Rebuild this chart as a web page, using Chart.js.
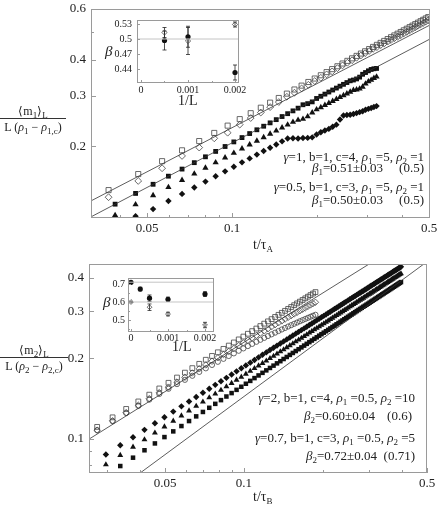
<!DOCTYPE html>
<html>
<head>
<meta charset="utf-8">
<script src="https://cdn.jsdelivr.net/npm/chart.js@4.4.1/dist/chart.umd.min.js"></script>
<style>
  html, body { margin:0; padding:0; background:#fff; }
  #fig { position:relative; width:437px; height:505px; overflow:hidden; font-family:'Liberation Serif','Times New Roman',serif; color:#222; }
  canvas { position:absolute; }
  .txt { position:absolute; white-space:nowrap; font-size:13px; line-height:15px; }
  .txt sub, .frac sub { font-size:9px; line-height:0; vertical-align:-3px; }
  .frac { position:absolute; text-align:center; font-size:12px; line-height:14px; }
  .frac .den { border-top:1px solid #333; padding-top:1px; }
  .r { display:inline-block; text-align:right; }
</style>
</head>
<body>
<div id="fig">
  <canvas id="topMain" width="437" height="252" style="left:0;top:0"></canvas>
  <canvas id="topInset" width="150" height="100" style="left:100px;top:12px"></canvas>
  <canvas id="botMain" width="437" height="253" style="left:0;top:252px"></canvas>
  <canvas id="botInset" width="130" height="90" style="left:95px;top:270px"></canvas>

  <div class="frac" style="left:0;top:104px;width:66px">
    <div>⟨m<sub>1</sub>⟩<sub>L</sub></div>
    <div class="den">L (<i>ρ</i><sub>1</sub> − <i>ρ</i><sub>1,c</sub>)</div>
  </div>
  <div class="txt" style="left:253px;top:237px;font-size:14px">t/τ<sub>A</sub></div>
  <div class="txt" style="right:13px;top:149px"><i>γ</i>=1, b=1, c=4, <i>ρ</i><sub>1</sub> =5, <i>ρ</i><sub>2</sub> =1</div>
  <div class="txt" style="right:13px;top:160px"><i>β</i><sub>1</sub>=0.51±0.03<span class="r" style="width:41px">(0.5)</span></div>
  <div class="txt" style="right:13px;top:179px"><i>γ</i>=0.5, b=1, c=3, <i>ρ</i><sub>1</sub> =5, <i>ρ</i><sub>2</sub> =1</div>
  <div class="txt" style="right:13px;top:192px"><i>β</i><sub>1</sub>=0.50±0.03<span class="r" style="width:41px">(0.5)</span></div>
  <div class="txt" style="left:105px;top:44px;font-size:15px"><i>β</i></div>
  <div class="txt" style="left:178px;top:93px;font-size:14px">1/L</div>

  <div class="frac" style="left:0;top:343px;width:68px">
    <div>⟨m<sub>2</sub>⟩<sub>L</sub></div>
    <div class="den">L (<i>ρ</i><sub>2</sub> − <i>ρ</i><sub>2,c</sub>)</div>
  </div>
  <div class="txt" style="left:253px;top:489px;font-size:14px">t/τ<sub>B</sub></div>
  <div class="txt" style="right:22px;top:390px"><i>γ</i>=2, b=1, c=4, <i>ρ</i><sub>1</sub> =0.5, <i>ρ</i><sub>2</sub> =10</div>
  <div class="txt" style="right:25px;top:408px"><i>β</i><sub>2</sub>=0.60±0.04<span class="r" style="width:37px">(0.6)</span></div>
  <div class="txt" style="right:22px;top:430px"><i>γ</i>=0.7, b=1, c=3, <i>ρ</i><sub>1</sub> =0.5, <i>ρ</i><sub>2</sub> =5</div>
  <div class="txt" style="right:22px;top:448px"><i>β</i><sub>2</sub>=0.72±0.04<span class="r" style="width:38px">(0.71)</span></div>
  <div class="txt" style="left:103px;top:295px;font-size:15px"><i>β</i></div>
  <div class="txt" style="left:172px;top:339px;font-size:14px">1/L</div>
</div>

<script>
// ---------- top panel data (t/tau_A, <m1>/L(rho1-rho1c)) ----------
const topOpenT = [0.0365,0.0465,0.0565,0.0665,0.0765,0.0865,0.0965,0.1065,0.1165,0.1265,0.1365,0.1465,0.1565,0.1665,0.1765,0.1865,0.1965,0.2065,0.2165,0.2265,0.2365,0.2465,0.2565,0.2665,0.2765,0.2865,0.2965,0.3065,0.3165,0.3265,0.3365,0.3465,0.3565,0.3665,0.3765,0.3865,0.3965,0.4065,0.4165,0.4265,0.4365,0.4465,0.4565,0.4665,0.4765,0.4865,0.4965];
const topOpenSq = [0.141,0.1603,0.1777,0.1938,0.2087,0.2227,0.2361,0.2487,0.2608,0.2725,0.2837,0.2945,0.3050,0.3152,0.3251,0.3347,0.3441,0.3532,0.3622,0.3710,0.3796,0.3880,0.3963,0.4044,0.4124,0.4202,0.4279,0.4355,0.4430,0.4504,0.4576,0.4648,0.4718,0.4788,0.4857,0.4925,0.4992,0.5059,0.5124,0.5189,0.5253,0.5316,0.5379,0.5441,0.5503,0.5564,0.5624];
const topOpenDi = [0.1332,0.1517,0.1679,0.1853,0.1981,0.2133,0.2231,0.2380,0.2509,0.2621,0.2738,0.2851,0.2974,0.3073,0.3179,0.3273,0.3372,0.3461,0.3557,0.3643,0.3739,0.3822,0.3904,0.3983,0.4062,0.4139,0.4215,0.4290,0.4364,0.4423,0.4494,0.4555,0.4624,0.4683,0.4750,0.4807,0.4867,0.4933,0.4996,0.5059,0.5122,0.5183,0.5245,0.5305,0.5365,0.5425,0.5483];

const topFillT = [0.0385,0.0455,0.0525,0.0595,0.0665,0.0735,0.0805,0.0875,0.0945,0.1015,0.1085,0.1155,0.1225,0.1295,0.1365,0.1435,0.1505,0.1575,0.1645,0.1715,0.1785,0.1855,0.1925,0.1995,0.2065,0.2135,0.2205,0.2275,0.2345,0.2415,0.2485,0.2555,0.2625,0.2695,0.2765,0.2835,0.2905,0.2975,0.3045,0.3115,0.3185,0.3255];
const topFillSq = [0.1260,0.1373,0.1477,0.1576,0.1668,0.1756,0.1840,0.1921,0.1998,0.2073,0.2146,0.2216,0.2284,0.2350,0.2414,0.2477,0.2539,0.2598,0.2657,0.2715,0.2790,0.2815,0.2855,0.2934,0.2986,0.3038,0.3089,0.3139,0.3188,0.3237,0.3285,0.3332,0.3379,0.3400,0.3430,0.3480,0.3560,0.3610,0.3660,0.3700,0.3720,0.3730];
const topFillTri = [0.1153,0.1256,0.1351,0.1442,0.1526,0.1607,0.1684,0.1758,0.1828,0.1897,0.1964,0.2028,0.2090,0.2150,0.2209,0.2266,0.2323,0.2377,0.2431,0.2470,0.2490,0.2540,0.2620,0.2685,0.2732,0.2780,0.2826,0.2872,0.2917,0.2962,0.3006,0.3049,0.3092,0.3134,0.3150,0.3170,0.3220,0.3300,0.3360,0.3400,0.3450,0.3490];
const topFillDi = [0.1030,0.1145,0.1211,0.1292,0.1368,0.1440,0.1509,0.1575,0.1638,0.1700,0.1760,0.1817,0.1873,0.1927,0.1979,0.2031,0.2082,0.2130,0.2135,0.2130,0.2138,0.2140,0.2150,0.2200,0.2240,0.2270,0.2300,0.2340,0.2380,0.2480,0.2560,0.2570,0.2575,0.2590,0.2610,0.2630,0.2650,0.2680,0.2700,0.2720,0.2740,0.2760];

const topFitT = [0.0316, 0.5036];
const topFitUp = [0.1293, 0.528];
const topFitLo = [0.1138, 0.472];

const topXTicks = [0.04,0.05,0.06,0.07,0.08,0.09,0.1,0.2,0.3,0.4,0.5];
const topXLabels = ['','0.05','','','','','0.1','','','','0.5'];
const topYTicks = [0.2,0.3,0.4,0.5,0.6];
const topYLabels = ['0.2','0.3','0.4','','0.6'];

// top inset: beta vs 1/L
const insTopX = [0.0005,0.001,0.002];
const insTopOpen = [0.513,0.496,0.529];
const insTopOpenErr = [0.010,0.027,0.005];
const insTopFill = [0.497,0.5045,0.433];
const insTopFillErr = [0.019,0.021,0.015];
const insTopRef = [0.5];

// ---------- bottom panel data (t/tau_B, <m2>/L(rho2-rho2c)) ----------
const botOpenT = [0.0275,0.0315,0.0355,0.0395,0.0435,0.0475,0.0515,0.0555,0.0595,0.0635,0.0675,0.0715,0.0755,0.0795,0.0835,0.0875,0.0915,0.0955,0.0995,0.1035,0.1075,0.1115,0.1155,0.1195,0.1235,0.1275,0.1315,0.1355,0.1395,0.1435,0.1475,0.1515,0.1555,0.1595,0.1635,0.1675,0.1715,0.1755,0.1795,0.1835,0.1875];
const botOpenSq = [0.1109,0.1204,0.1294,0.1380,0.1463,0.1543,0.1620,0.1695,0.1768,0.1838,0.1907,0.1975,0.2041,0.2106,0.2169,0.2231,0.2292,0.2353,0.2411,0.2470,0.2527,0.2583,0.2639,0.2694,0.2748,0.2801,0.2854,0.2906,0.2957,0.3008,0.3059,0.3109,0.3158,0.3207,0.3255,0.3303,0.3350,0.3397,0.3444,0.3490,0.3535];
const botOpenDi = [0.1078,0.1169,0.1254,0.1336,0.1414,0.1489,0.1561,0.1631,0.1699,0.1763,0.1827,0.1889,0.1950,0.2009,0.2066,0.2122,0.2176,0.2231,0.2283,0.2335,0.2385,0.2435,0.2484,0.2532,0.2579,0.2625,0.2670,0.2715,0.2758,0.2802,0.2845,0.2887,0.2928,0.2969,0.3009,0.3049,0.3087,0.3126,0.3164,0.3202,0.3238];
const botOpenCi = [0.1078,0.1165,0.1249,0.1328,0.1402,0.1472,0.1539,0.1602,0.1662,0.1721,0.1779,0.1835,0.1889,0.1941,0.1991,0.2040,0.2087,0.2134,0.2178,0.2222,0.2264,0.2305,0.2345,0.2384,0.2422,0.2458,0.2494,0.2529,0.2563,0.2596,0.2629,0.2660,0.2691,0.2720,0.2750,0.2778,0.2805,0.2832,0.2859,0.2884,0.2908];

const botFillT = [0.0297,0.0337,0.0377,0.0417,0.0457,0.0497,0.0537,0.0577,0.0617,0.0657,0.0697,0.0737,0.0777,0.0817,0.0857,0.0897,0.0937,0.0977,0.1017,0.1057,0.1097,0.1137,0.1177,0.1217,0.1257,0.1297,0.1337,0.1377,0.1417,0.1457,0.1497,
  0.1537,0.1577,0.1617,0.1657,0.1697,0.1737,0.1777,0.1817,0.1857,0.1897,0.1937,0.1977,0.2017,0.2057,0.2097,0.2137,0.2177,0.2217,0.2257,0.2297,0.2337,0.2377,0.2417,0.2457,0.2497,0.2537,0.2577,0.2617,0.2657,0.2697,0.2737,0.2777,0.2817,0.2857,0.2897,0.2937,0.2977,0.3017,0.3057,0.3097,0.3137,0.3177,0.3217,0.3257,0.3297,0.3337,0.3377,0.3417,0.3457,0.3497,0.3537,0.3577,0.3617,0.3657,0.3697,0.3737,0.3777,0.3817,0.3857,0.3897,0.3937,0.3977];
const botFillDi = [0.0875,0.0947,0.1015,0.1081,0.1144,0.1205,0.1265,0.1323,0.1379,0.1434,0.1487,0.1540,0.1592,0.1642,0.1691,0.1740,0.1788,0.1835,0.1882,0.1927,0.1972,0.2017,0.2061,0.2104,0.2147,0.2189,0.2231,0.2272,0.2313,0.2353,0.2393,
  0.2433,0.2472,0.2511,0.2549,0.2587,0.2625,0.2663,0.2699,0.2736,0.2773,0.2809,0.2845,0.2881,0.2916,0.2951,0.2986,0.3021,0.3055,0.3089,0.3123,0.3157,0.3190,0.3224,0.3257,0.3290,0.3322,0.3355,0.3387,0.3419,0.3451,0.3483,0.3514,0.3546,0.3577,0.3608,0.3639,0.3670,0.3700,0.3731,0.3761,0.3791,0.3821,0.3851,0.3881,0.3910,0.3940,0.3969,0.3998,0.4027,0.4056,0.4085,0.4113,0.4142,0.4170,0.4199,0.4227,0.4255,0.4283,0.4311,0.4339,0.4366,0.4394];
const botFillTri = [0.0802,0.0869,0.0933,0.0994,0.1054,0.1111,0.1167,0.1221,0.1274,0.1326,0.1376,0.1426,0.1474,0.1522,0.1569,0.1615,0.1660,0.1704,0.1748,0.1791,0.1834,0.1876,0.1917,0.1958,0.1999,0.2039,0.2079,0.2118,0.2156,0.2195,0.2233,
  0.2270,0.2308,0.2344,0.2381,0.2417,0.2453,0.2489,0.2524,0.2559,0.2594,0.2628,0.2662,0.2697,0.2730,0.2764,0.2797,0.2830,0.2863,0.2895,0.2928,0.2960,0.2992,0.3024,0.3055,0.3087,0.3118,0.3149,0.3180,0.3210,0.3241,0.3271,0.3302,0.3332,0.3361,0.3391,0.3421,0.3450,0.3479,0.3508,0.3538,0.3566,0.3595,0.3623,0.3652,0.3680,0.3709,0.3737,0.3765,0.3792,0.3820,0.3848,0.3875,0.3902,0.3930,0.3957,0.3984,0.4011,0.4038,0.4064,0.4091,0.4117,0.4144];
const botFillSq = [0.0730,0.0792,0.0851,0.0907,0.0962,0.1016,0.1067,0.1117,0.1166,0.1214,0.1261,0.1307,0.1352,0.1396,0.1440,0.1483,0.1525,0.1566,0.1607,0.1647,0.1687,0.1726,0.1765,0.1803,0.1841,0.1878,0.1915,0.1951,0.1988,0.2023,0.2059,
  0.2094,0.2129,0.2163,0.2197,0.2231,0.2265,0.2298,0.2331,0.2364,0.2396,0.2429,0.2461,0.2493,0.2524,0.2555,0.2586,0.2617,0.2648,0.2679,0.2709,0.2739,0.2769,0.2799,0.2828,0.2858,0.2887,0.2916,0.2945,0.2974,0.3003,0.3031,0.3059,0.3088,0.3116,0.3143,0.3171,0.3198,0.3226,0.3254,0.3281,0.3308,0.3335,0.3362,0.3389,0.3415,0.3442,0.3468,0.3494,0.3520,0.3546,0.3573,0.3598,0.3624,0.3650,0.3675,0.3701,0.3726,0.3751,0.3776,0.3802,0.3826,0.3851];

const botFitUpT = [0.0256, 0.31];
const botFitUpV = [0.0998, 0.4585];
const botFitLoT = [0.036, 0.5];
const botFitLoV = [0.069, 0.459];

const botXTicks = [0.03,0.04,0.05,0.06,0.07,0.08,0.09,0.1,0.2,0.3,0.4,0.5];
const botXLabels = ['','','0.05','','','','','0.1','','','','0.5'];
const botYTicks = [0.08,0.09,0.1,0.2,0.3,0.4];
const botYLabels = ['','','0.1','0.2','0.3','0.4'];

// bottom inset
const insBotFillX = [0,0.00025,0.0005,0.001,0.002];
const insBotFill = [0.709,0.672,0.621,0.615,0.644];
const insBotFillErr = [0.005,0.010,0.018,0.012,0.013];
const insBotOpenX = [0,0.0005,0.001,0.002];
const insBotOpen = [0.600,0.571,0.533,0.472];
const insBotOpenErr = [0.003,0.018,0.010,0.015];
const insBotRef = [0.6, 0.71];

// ---------- helpers ----------
const FONT = "'Liberation Serif','Times New Roman',serif";
Chart.defaults.font.family = FONT;
Chart.defaults.color = '#222';

const pts = (xs, ys) => xs.map((x, i) => ({ x, y: ys[i] }));

const openPts = (xs, ys, shape, r) => ({
  data: pts(xs, ys), pointStyle: shape, pointRadius: r,
  backgroundColor: 'rgba(0,0,0,0)', borderColor: '#444', borderWidth: 0.8
});
const fillPts = (xs, ys, shape, r) => ({
  data: pts(xs, ys), pointStyle: shape, pointRadius: r,
  backgroundColor: '#111', borderColor: '#111', borderWidth: 0
});
const fitLine = (xs, ys, col, w) => ({
  type: 'line', data: pts(xs, ys), borderColor: col, borderWidth: w,
  pointRadius: 0, fill: false
});

// frame, inward tick marks and tick labels, placed with the chart's own scales
function frameTicks(xl, yl, o) {
  return {
    id: 'frameTicks',
    afterDatasetsDraw(chart) {
      const ctx = chart.ctx, a = chart.chartArea;
      const xs = chart.scales.x, ys = chart.scales.y;
      ctx.save();
      ctx.strokeStyle = o.color;
      ctx.lineWidth = 1;
      ctx.beginPath();
      xs.ticks.forEach((t, i) => {
        const px = Math.round(xs.getPixelForValue(t.value)) + 0.5;
        ctx.moveTo(px, a.bottom);
        ctx.lineTo(px, a.bottom - (xl[i] ? o.major : o.minor));
      });
      ys.ticks.forEach((t, i) => {
        const py = Math.round(ys.getPixelForValue(t.value)) + 0.5;
        ctx.moveTo(a.left, py);
        ctx.lineTo(a.left + (yl[i] ? o.major : o.minor), py);
      });
      ctx.stroke();
      ctx.strokeRect(Math.round(a.left) + 0.5, Math.round(a.top) + 0.5,
        Math.round(a.right - a.left) - 1, Math.round(a.bottom - a.top) - 1);

      ctx.fillStyle = '#222';
      ctx.font = o.size + 'px ' + FONT;
      ctx.textAlign = 'center';
      ctx.textBaseline = 'top';
      xs.ticks.forEach((t, i) => {
        if (xl[i]) ctx.fillText(xl[i], xs.getPixelForValue(t.value), a.bottom + o.padX);
      });
      ctx.textAlign = 'right';
      ctx.textBaseline = 'middle';
      ys.ticks.forEach((t, i) => {
        if (yl[i]) ctx.fillText(yl[i], a.left - o.padY, ys.getPixelForValue(t.value));
      });
      ctx.restore();
    }
  };
}

// vertical error bars for datasets carrying an errors array
const errorBars = {
  id: 'errorBars',
  beforeDatasetsDraw(chart) {
    const ctx = chart.ctx, ys = chart.scales.y;
    ctx.save();
    ctx.strokeStyle = '#222';
    ctx.lineWidth = 0.8;
    chart.data.datasets.forEach((ds, i) => {
      if (!ds.errors) return;
      chart.getDatasetMeta(i).data.forEach((el, j) => {
        const v = ds.data[j].y, e = ds.errors[j];
        const y1 = ys.getPixelForValue(v + e), y2 = ys.getPixelForValue(v - e);
        ctx.beginPath();
        ctx.moveTo(el.x, y1); ctx.lineTo(el.x, y2);
        ctx.moveTo(el.x - 2, y1); ctx.lineTo(el.x + 2, y1);
        ctx.moveTo(el.x - 2, y2); ctx.lineTo(el.x + 2, y2);
        ctx.stroke();
      });
    });
    ctx.restore();
  }
};

function axis(type, min, max, tickVals, horiz, size) {
  return {
    type, min, max,
    grid: { display: false, drawTicks: false },
    border: { display: false },
    afterBuildTicks: s => { s.ticks = tickVals.map(v => ({ value: v })); },
    afterFit: s => {
      if (horiz) { s.height = size; s.paddingLeft = 0; s.paddingRight = 0; }
      else { s.width = size; s.paddingTop = 0; s.paddingBottom = 0; }
    },
    ticks: { display: false, autoSkip: false }
  };
}

function makeChart(id, datasets, pad, xAxis, yAxis, labelPlugin) {
  return new Chart(document.getElementById(id), {
    type: 'scatter',
    data: { datasets },
    options: {
      responsive: false, animation: false, devicePixelRatio: 1,
      layout: { padding: pad },
      plugins: { legend: { display: false }, tooltip: { enabled: false } },
      scales: { x: xAxis, y: yAxis }
    },
    plugins: [errorBars, labelPlugin]
  });
}

// ---------- top main ----------
makeChart('topMain', [
  fitLine(topFitT, topFitUp, '#333', 0.8),
  fitLine(topFitT, topFitLo, '#333', 0.8),
  openPts(topOpenT, topOpenSq, 'rect', 3.6),
  openPts(topOpenT, topOpenDi, 'rectRot', 3.4),
  fillPts(topFillT, topFillSq, 'rect', 3.4),
  fillPts(topFillT, topFillTri, 'triangle', 3.6),
  fillPts(topFillT, topFillDi, 'rectRot', 3.2)
], { left: 0, top: 9, right: 7, bottom: 0 },
  axis('logarithmic', 0.03162, 0.5036, topXTicks, true, 34),
  axis('logarithmic', 0.1128, 0.6, topYTicks, false, 91),
  frameTicks(topXLabels, topYLabels, { color: '#9a9a9a', major: 5, minor: 3, size: 13, padX: 4, padY: 5 }));

// ---------- top inset ----------
makeChart('topInset', [
  fitLine([-0.001, 0.003], [insTopRef[0], insTopRef[0]], '#c4c4c4', 1),
  Object.assign(openPts(insTopX, insTopOpen, 'rectRot', 2.6), { errors: insTopOpenErr }),
  Object.assign(fillPts(insTopX, insTopFill, 'circle', 2.6), { errors: insTopFillErr })
], { left: 0, top: 8, right: 11, bottom: 0 },
  axis('linear', -0.000085, 0.002085, [0, 0.0005, 0.001, 0.0015, 0.002], true, 29),
  axis('linear', 0.412, 0.538, [0.44, 0.47, 0.5, 0.53], false, 37),
  frameTicks(['0', '', '0.001', '', '0.002'], ['0.44', '0.47', '0.5', '0.53'],
    { color: '#9a9a9a', major: 3, minor: 2, size: 10, padX: 2, padY: 5 }));

// ---------- bottom main ----------
makeChart('botMain', [
  fitLine(botFitUpT, botFitUpV, '#333', 0.8),
  fitLine(botFitLoT, botFitLoV, '#333', 0.8),
  openPts(botOpenT, botOpenSq, 'rect', 3.4),
  openPts(botOpenT, botOpenDi, 'rectRot', 3.2),
  openPts(botOpenT, botOpenCi, 'circle', 2.6),
  fillPts(botFillT, botFillDi, 'rectRot', 3.2),
  fillPts(botFillT, botFillTri, 'triangle', 3.4),
  fillPts(botFillT, botFillSq, 'rect', 3.2)
], { left: 0, top: 12, right: 10, bottom: 0 },
  axis('logarithmic', 0.0256, 0.5, botXTicks, true, 32),
  axis('logarithmic', 0.0746, 0.45, botYTicks, false, 89),
  frameTicks(botXLabels, botYLabels, { color: '#9a9a9a', major: 5, minor: 3, size: 13, padX: 4, padY: 5 }));

// ---------- bottom inset ----------
makeChart('botInset', [
  fitLine([-0.001, 0.003], [insBotRef[0], insBotRef[0]], '#c4c4c4', 1),
  fitLine([-0.001, 0.003], [insBotRef[1], insBotRef[1]], '#c4c4c4', 1),
  Object.assign(openPts(insBotOpenX, insBotOpen, 'rectRot', 2.4), { errors: insBotOpenErr }),
  Object.assign(fillPts(insBotFillX, insBotFill, 'circle', 2.6), { errors: insBotFillErr })
], { left: 0, top: 8, right: 11, bottom: 0 },
  axis('linear', -0.000081, 0.002243, [0, 0.0005, 0.001, 0.0015, 0.002], true, 28),
  axis('linear', 0.4333, 0.7333, [0.45, 0.5, 0.55, 0.6, 0.65, 0.7], false, 33),
  frameTicks(['0', '', '0.001', '', '0.002'], ['', '0.5', '', '0.6', '', '0.7'],
    { color: '#9a9a9a', major: 3, minor: 2, size: 10, padX: 1, padY: 3 }));
</script>
</body>
</html>
